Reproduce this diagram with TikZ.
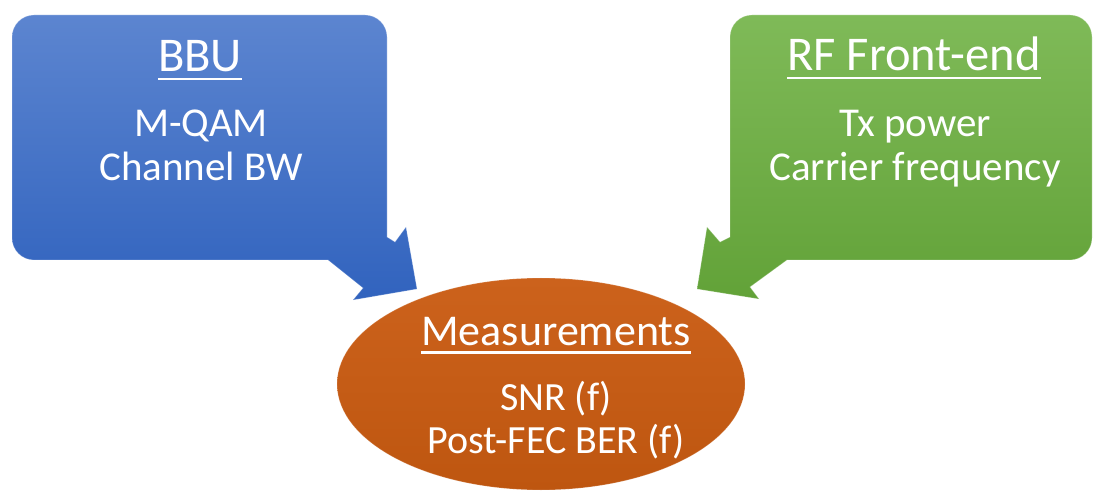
\documentclass[tikz,border=0pt]{standalone}
\usepackage{fontspec}
\setmainfont{Carlito}
\usetikzlibrary{shapes.geometric}

\definecolor{bluetop}{RGB}{92,133,208}
\definecolor{bluebot}{RGB}{49,99,190}
\definecolor{greentop}{RGB}{127,186,88}
\definecolor{greenbot}{RGB}{98,162,56}
\definecolor{orangetop}{RGB}{204,98,28}
\definecolor{orangebot}{RGB}{190,86,16}

% underlined heading with the rule set well below the baseline
\newcommand\headline[2][-9pt]{\setbox0=\hbox{#2}\rlap{\rule[#1]{\wd0}{2.6pt}}\box0}

\tikzset{
  bluecallout/.style={top color=bluetop, bottom color=bluebot, draw=white, draw opacity=0.25, line width=0.8pt},
  greencallout/.style={top color=greentop, bottom color=greenbot, draw=white, draw opacity=0.25, line width=0.8pt},
  measure/.style={ellipse, minimum width=408pt, minimum height=212pt, inner sep=0pt,
    top color=orangetop, bottom color=orangebot, draw=white, draw opacity=0.2, line width=0.8pt},
  label/.style={anchor=base, inner sep=0pt, text=white},
  titlefont/.style={font=\fontsize{48.5}{56}\selectfont},
  bodyfont/.style={font=\fontsize{41}{45}\selectfont},
  ovalfont/.style={font=\fontsize{40}{44}\selectfont},
}

\begin{document}
\begin{tikzpicture}[x=1pt, y=1pt]
\useasboundingbox (0,0) rectangle (1094,493);

% BBU callout, pointing down-right
\path[bluecallout] (34,478) -- (365,478) arc[start angle=90, end angle=0, radius=22pt]
  -- (387,256) -- (395,251) -- (406,266) -- (417,204) -- (353,193) -- (363,205)
  -- (328,233) -- (34,233) arc[start angle=270, end angle=180, radius=22pt]
  -- (12,456) arc[start angle=180, end angle=90, radius=22pt] -- cycle;

% RF front-end callout, pointing down-left
\path[greencallout] (752,478) -- (1070,478) arc[start angle=90, end angle=0, radius=22pt]
  -- (1092,255) arc[start angle=0, end angle=-90, radius=22pt]
  -- (787,233) -- (750,206) -- (759,194) -- (697,204) -- (707,266) -- (720,251)
  -- (730,256) -- (730,456) arc[start angle=180, end angle=90, radius=22pt] -- cycle;

% measurement ellipse
\node[measure] (meas) at (541,109) {};

% texts
\node[label, titlefont] (bbuT) at (200,421) {\headline[-8.5pt]{BBU}};
\node[label, bodyfont] (bbuA) at (201,356) {M-QAM};
\node[label, bodyfont] (bbuB) at (201,312) {Channel BW};

\node[label, titlefont] (rfT) at (914,422) {\headline[-8.5pt]{RF Front-end}};
\node[label, bodyfont] (rfA) at (915,356) {Tx power};
\node[label, bodyfont] (rfB) at (915,312) {Carrier frequency};

\node[label, font=\fontsize{44}{50}\selectfont] (measT) at (556,148) {\headline{Measurements}};
\node[label, ovalfont] (measA) at (556,83) {SNR (f)};
\node[label, ovalfont] (measB) at (556,40) {Post-FEC BER (f)};
\end{tikzpicture}
\end{document}
